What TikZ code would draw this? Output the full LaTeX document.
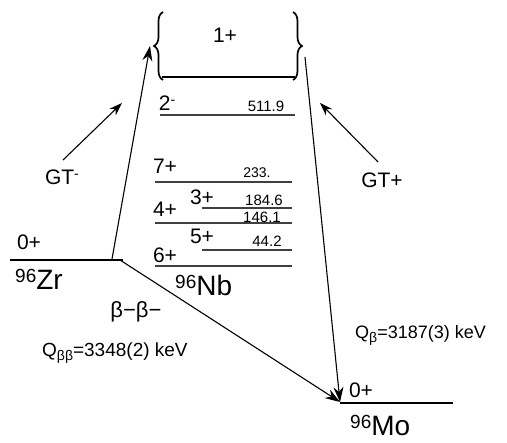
\documentclass[tikz,border=0pt]{standalone}
\usepackage{fontspec}
\setmainfont{Liberation Sans}
\usetikzlibrary{arrows.meta,decorations.pathreplacing}
\newcommand{\fs}[1]{\fontsize{#1}{#1}\selectfont}
\newcommand{\isot}[2]{\raisebox{7pt}{\fs{19}#1}\fs{28}#2}
\begin{document}
\begin{tikzpicture}[x=1pt,y=-1pt,
  lvl/.style={draw=black!75,line width=1.6pt},
  spin/.style={inner sep=0pt,font=\fs{21}},
  en/.style={inner sep=0pt,font=\fs{15}},
  conn/.style={draw=black,line width=1.1pt,-{Stealth[length=15pt,width=10pt]}},
  plain/.style={draw=black,line width=1.1pt},
  brc/.style={draw=black,line width=1.7pt,decorate,decoration={brace,amplitude=9pt}}]
\useasboundingbox (0,0) rectangle (507,443);
% brace box
\draw[brc] (163,80) -- (163,12);
\draw[brc] (293,12) -- (293,80);
\draw[plain] (162,77) -- (295,77);
\node[spin] (s1) at (225,35) {1+};
% Nb levels
\draw[lvl] (160,115) -- (295,115);
\node[spin] (s2m) at (167,103) {2\raisebox{6pt}{\fs{14}-}};
\node[en] (e511) at (266,106) {511.9};
\draw[lvl] (155,182) -- (292,182);
\node[spin] (s7) at (165,166) {7+};
\node[en,font=\fs{14}] (e233) at (257,173) {233.};
\node[spin] (s3) at (202,197) {3+};
\node[en] (e184) at (264,200) {184.6};
\draw[lvl] (202,208) -- (292,208);
\node[en] (e146) at (262,217) {146.1};
\node[spin] (s4) at (165,209) {4+};
\draw[lvl] (155,223) -- (292,223);
\node[spin] (s5) at (202,236) {5+};
\node[en] (e44) at (267,241) {44.2};
\draw[lvl] (202,250) -- (292,250);
\node[spin] (s6) at (165,255) {6+};
\draw[lvl] (155,266) -- (292,266);
\node[inner sep=0pt,anchor=west] (nb) at (175,285) {\isot{96}{Nb}};
% Zr
\draw[plain] (10,260) -- (123,260);
\node[spin] (zr0) at (29,242) {0+};
\node[inner sep=0pt,anchor=west] (zr) at (15,279) {\isot{96}{Zr}};
% Mo
\draw[plain] (340,403) -- (453,403);
\node[spin] (mo0) at (361,390) {0+};
\node[inner sep=0pt,anchor=west] (mo) at (350,426) {\isot{96}{Mo}};
% connectors
\coordinate (zrup) at (112,259);
\coordinate (top1) at (150,46);
\coordinate (zrd) at (120,260);
\coordinate (motip) at (340,402);
\coordinate (topr) at (305,57);
\draw[conn] (zrup) -- (top1);
\draw[conn] (topr) -- (motip);
\draw[conn] (zrd) -- (motip);
% GT arrows
\coordinate (gtma) at (63,160);
\coordinate (gtmb) at (122,103);
\coordinate (gtpa) at (378,162);
\coordinate (gtpb) at (320,103);
\draw[conn,-{Stealth[length=13pt,width=9pt]}] (gtma) -- (gtmb);
\draw[conn,-{Stealth[length=13pt,width=9pt]}] (gtpa) -- (gtpb);
\node[spin] (gtm) at (62,177) {GT\raisebox{6pt}{\fs{14}-}};
\node[spin] (gtp) at (382,180) {GT+};
% labels
\node[inner sep=0pt,font=\fs{22}] (bb) at (136,312) {β−β−};
\node[inner sep=0pt,anchor=west,font=\fs{19}] (qbb) at (42,353) {Q\raisebox{-4pt}{\fs{14}ββ}=3348(2) keV};
\node[inner sep=0pt,anchor=west,font=\fs{18}] (qb) at (355,335) {Q\raisebox{-4pt}{\fs{14}β}=3187(3) keV};
\end{tikzpicture}
\end{document}
